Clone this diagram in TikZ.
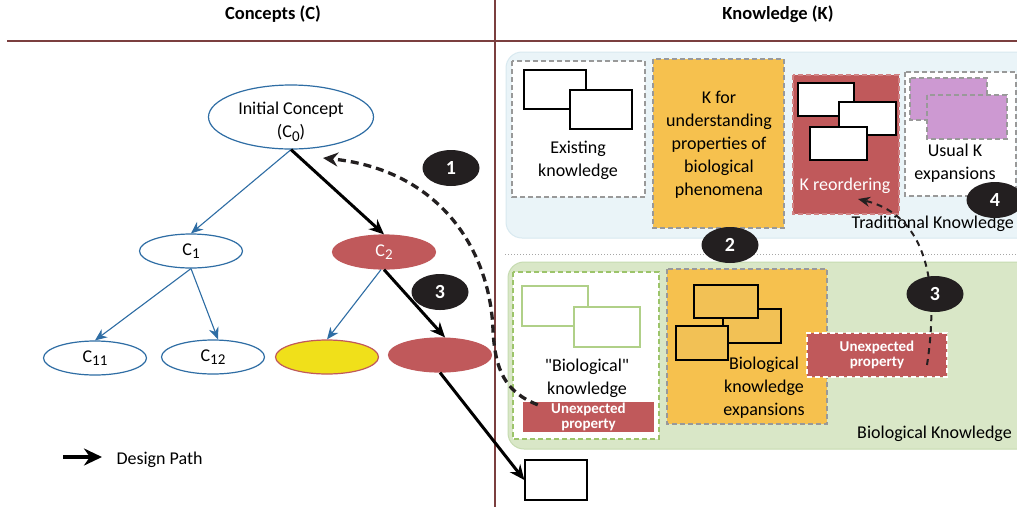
\documentclass[tikz,border=0pt]{standalone}
\usepackage{fontspec}
\setmainfont{Carlito}
\newfontfamily\rawfont{Carlito}
\usetikzlibrary{arrows.meta,shapes.geometric}
\definecolor{kred}{HTML}{C0595B}
\definecolor{kyel}{HTML}{F6C14E}
\definecolor{kyel2}{HTML}{F2C155}
\definecolor{kblue}{HTML}{2E6DA4}
\definecolor{kbrown}{HTML}{7B3F3F}
\definecolor{tradbg}{HTML}{EAF4F8}
\definecolor{tradbd}{HTML}{D8E9F0}
\definecolor{biobg}{HTML}{D9E7C7}
\definecolor{biobd}{HTML}{C6DBB0}
\definecolor{kgreen}{HTML}{9CC46A}
\definecolor{kpurple}{HTML}{CD99D2}
\definecolor{kyellow}{HTML}{F0E01A}
\definecolor{kblack}{HTML}{231F20}
\definecolor{kgray}{HTML}{999999}
\newcommand{\csub}[1]{C\raisebox{-0.4ex}{\fontsize{15}{15}\selectfont #1}}
\newcommand{\sq}{{\rawfont"}}
\tikzset{
  body/.style={font=\fontsize{18}{23}\selectfont},
  conc/.style={ellipse, draw=kblue, line width=1.2pt, minimum width=103pt, minimum height=34pt, inner sep=0pt, body},
  bluearr/.style={kblue, line width=1.1pt, -{Stealth[length=12pt,width=10pt]}},
  design/.style={black, line width=3pt, -{Stealth[length=15pt,width=13pt]}},
  dasharr/.style={kblack, line width=3.3pt, dash pattern=on 8pt off 5pt, -{Stealth[length=15pt,width=14pt]}},
  thindash/.style={kblack, line width=2pt, dash pattern=on 6pt off 5pt, -{Stealth[length=12pt,width=10pt]}},
  badge/.style={ellipse, fill=kblack, text=white, minimum width=57pt, minimum height=36pt, inner sep=0pt, font=\bfseries\fontsize{20}{22}\selectfont},
  gbox/.style={draw=kgray, dash pattern=on 5pt off 3pt, line width=1.3pt},
  wrect/.style={draw=black, fill=white, line width=1.3pt},
  upbold/.style={text=white, font=\bfseries\fontsize{15}{15}\selectfont, align=center},
}
\begin{document}
\begin{tikzpicture}[x=1pt,y=-1pt]
\useasboundingbox (0,0) rectangle (1017,507);
\fill[white] (0,0) rectangle (1017,507);
% headers and dividers
\node[font=\bfseries\fontsize{18.5}{22}\selectfont] (hc) at (273,14) {Concepts (C)};
\node[font=\bfseries\fontsize{18.5}{22}\selectfont] (hk) at (778,14) {Knowledge (K)};
\draw[kbrown, line width=1.5pt] (7,41) -- (1017,41);
\draw[kbrown, line width=1.5pt] (495,0) -- (495,507);
% regions
\begin{scope}
\clip (0,0) rectangle (1017,507);
\draw[fill=tradbg, draw=tradbd, line width=1pt, rounded corners=16pt] (506,52) rectangle (1040,238);
\draw[fill=biobg, draw=biobd, line width=1pt, rounded corners=16pt] (508,262) rectangle (1040,449);
\end{scope}
\draw[gray!70, dotted, line width=1pt] (505,254) -- (1017,254);
% Traditional knowledge boxes
\draw[gbox, fill=white] (512,61) rectangle (645,197);
\draw[wrect] (524,70) rectangle (586,109);
\draw[wrect] (570,90) rectangle (632,129);
\node[body, align=center] (exk) at (578,160) {Existing\\knowledge};
\draw[gbox, fill=kyel] (653,59) rectangle (784,228);
\node[body, align=center] (kfor) at (719,145) {K for\\understanding\\properties of\\biological\\phenomena};
\draw[draw=kred!75!white, dash pattern=on 5pt off 3pt, line width=1.3pt, fill=kred] (793,75) rectangle (899,214);
\draw[wrect] (798,83) rectangle (854,116);
\draw[wrect] (839,102) rectangle (896,135);
\draw[wrect] (810,127) rectangle (867,160);
\node[body, text=white] (kreo) at (845,186) {K reordering};
\draw[gbox, fill=white] (905,72) rectangle (1016,196);
\draw[gbox, fill=kpurple] (910,78) rectangle (987,120);
\draw[gbox, fill=kpurple] (927,95) rectangle (1007,139);
\node[body, align=center] (usk) at (955,163) {Usual K\\expansions};
\node[body, anchor=east, inner sep=0pt] (tradk) at (1014,224) {Traditional Knowledge};
% Biological knowledge boxes
\draw[draw=kgreen, dash pattern=on 5pt off 3pt, line width=1.3pt, fill=white] (513,272) rectangle (659,439);
\draw[draw=kgreen!80!white, line width=1.5pt, fill=white] (522,286) rectangle (588,326);
\draw[draw=kgreen!80!white, line width=1.5pt, fill=white] (574,307) rectangle (640,347);
\node[body, align=center] (biok) at (587,378) {\sq Biological\sq\\knowledge};
\node[fill=kred, minimum width=131pt, minimum height=30pt, inner sep=0pt, upbold] (up1) at (588.5,417) {Unexpected\\property};
\draw[gbox, fill=kyel] (667,269) rectangle (827,424);
\draw[draw=black, line width=1.5pt, fill=kyel2] (723,309) rectangle (781,343);
\draw[draw=black, line width=1.5pt, fill=kyel2] (694,285) rectangle (758,318);
\draw[draw=black, line width=1.5pt, fill=kyel2] (676,326) rectangle (728,360);
\node[body, align=center] (bke) at (764,388) {Biological\\knowledge\\expansions};
\node[fill=kred, draw=white, dash pattern=on 5pt off 3pt, line width=1.3pt, minimum width=140pt, minimum height=44pt, inner sep=0pt, upbold] (up2) at (877,355) {Unexpected\\property};
\node[body, anchor=east, inner sep=0pt] (biolk) at (1012,434) {Biological Knowledge};
% concepts
\node[ellipse, draw=kblue, line width=1.2pt, minimum width=165pt, minimum height=64pt, inner sep=0pt] (c0) at (291,117) {};
\node[body, align=center] (c0t) at (291,122) {Initial Concept\\(\csub{0})};
\node[conc] (c1) at (191,251) {\csub{1}};
\node[conc, fill=kred, draw=kred, text=white] (c2) at (384,252) {\csub{2}};
\node[conc] (c11) at (95,358) {\csub{11}};
\node[conc] (c12) at (213,357) {\csub{12}};
\node[conc, fill=kyellow, draw=kred] (cy) at (327,357) {};
\node[conc, fill=kred, draw=kred] (cr) at (440,355) {};
\node[draw=black, line width=1.3pt, minimum width=62pt, minimum height=40pt, inner sep=0pt] (nb) at (556,480) {};
% connectors
\draw[bluearr] (c0.south) -- (c1.north);
\draw[bluearr] (c1.south) -- ([xshift=5pt]c12.north);
\draw[bluearr] (c1.south) -- (c11.north);
\draw[bluearr] ([xshift=-3pt]c2.south) -- (cy.north);
\draw[design] (c0.south) -- (c2.north);
\draw[design] (c2.south) -- ([xshift=5pt]cr.north);
\draw[design] (cr.south) -- (nb.west);
% legend
\coordinate (la) at (63,457);
\coordinate (lb) at (102,457);
\draw[black, line width=4.5pt, -{Stealth[length=18pt,width=17pt]}] (la) -- (lb);
\node[body, anchor=west] (leg) at (113,460) {Design Path};
% dashed arrows
\coordinate (t1) at (323,158);
\coordinate (t2) at (858,199);
\draw[dasharr] ([xshift=15pt,yshift=-3pt]up1.north west) .. controls (505,392) and (495,370) .. (493,330) .. controls (490,250) and (440,170) .. (t1);
\draw[thindash] ([xshift=50pt,yshift=-10pt]up2.center) .. controls (940,280) and (925,215) .. (t2);
% badges
\node[badge] (b1) at (451,168) {1};
\node[badge] (b3a) at (440,292) {3};
\node[badge] (b2) at (730,245) {2};
\node[badge] (b4) at (995,200) {4};
\node[badge] (b3b) at (935,294) {3};
\end{tikzpicture}
\end{document}
